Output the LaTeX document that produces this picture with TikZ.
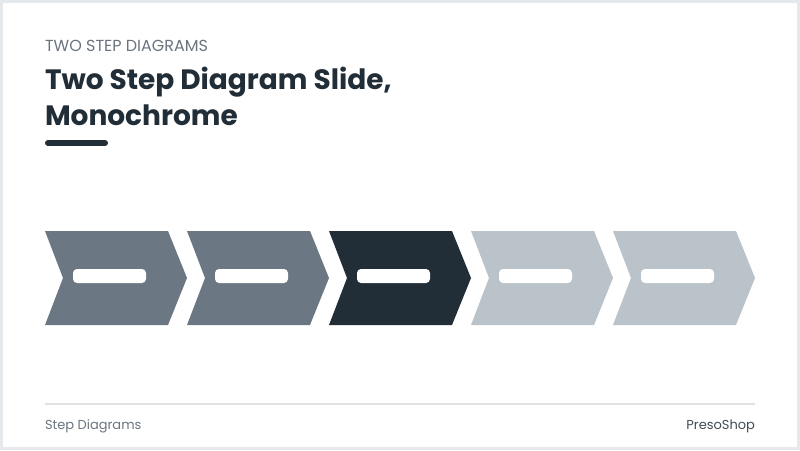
\documentclass[tikz,border=0pt]{standalone}
\usepackage{fontspec}
\setmainfont{Poppins}
\definecolor{frame}{HTML}{E6E9EB}
\definecolor{ink}{HTML}{212D37}
\definecolor{slate}{HTML}{6B7884}
\definecolor{mist}{HTML}{B9C3C9}
\definecolor{kicker}{HTML}{6B757F}
\definecolor{rule}{HTML}{DFE3E6}
\begin{document}
\begin{tikzpicture}[
  x=1pt, y=-1pt,
  every node/.style = {inner sep=0pt, outer sep=0pt},
  chevron/.style = {fill=#1, draw=none},
  pill/.style = {fill=white, rounded corners=4pt, minimum width=73pt, minimum height=14pt},
  caption/.style = {anchor=base west, text=kicker, font=\fontsize{13}{15}\selectfont}]
  \useasboundingbox (0,0) rectangle (800,450);
  \fill[frame] (0,0) rectangle (800,450);
  \fill[white] (3,3) rectangle (797,447);
  \node[anchor=base west, text=kicker, font=\fontsize{16}{19}\selectfont] (kick) at (45,51) {TWO STEP DIAGRAMS};
  \node[anchor=base west, text=ink, font=\bfseries\fontsize{28}{32}\selectfont] (title) at (45,89) {Two Step Diagram Slide,};
  \node[anchor=base west, text=ink, font=\bfseries\fontsize{28}{32}\selectfont] (title2) at (45,125) {Monochrome};
  \draw[ink, line width=6pt, line cap=round] (48,143) -- (105,143);
  \foreach \i/\c in {0/slate, 1/slate, 2/ink, 3/mist, 4/mist} {
    \pgfmathsetmacro{\xo}{45+142*\i}
    \fill[chevron=\c] (\xo,231) -- ++(123,0) -- ++(19,47) -- ++(-19,47) -- ++(-123,0) -- ++(18,-47) -- cycle;
    \node[pill] (bar\i) at (\xo+64.5,276) {};
  }
  \draw[rule, line width=1.2pt] (45,404) coordinate (ruleL) -- (755,404) coordinate (ruleR);
  \node[caption] (foot) at (45,429) {Step Diagrams};
  \node[caption, anchor=base east, text=ink!85] (brand) at (755,429) {PresoShop};
\end{tikzpicture}
\end{document}
